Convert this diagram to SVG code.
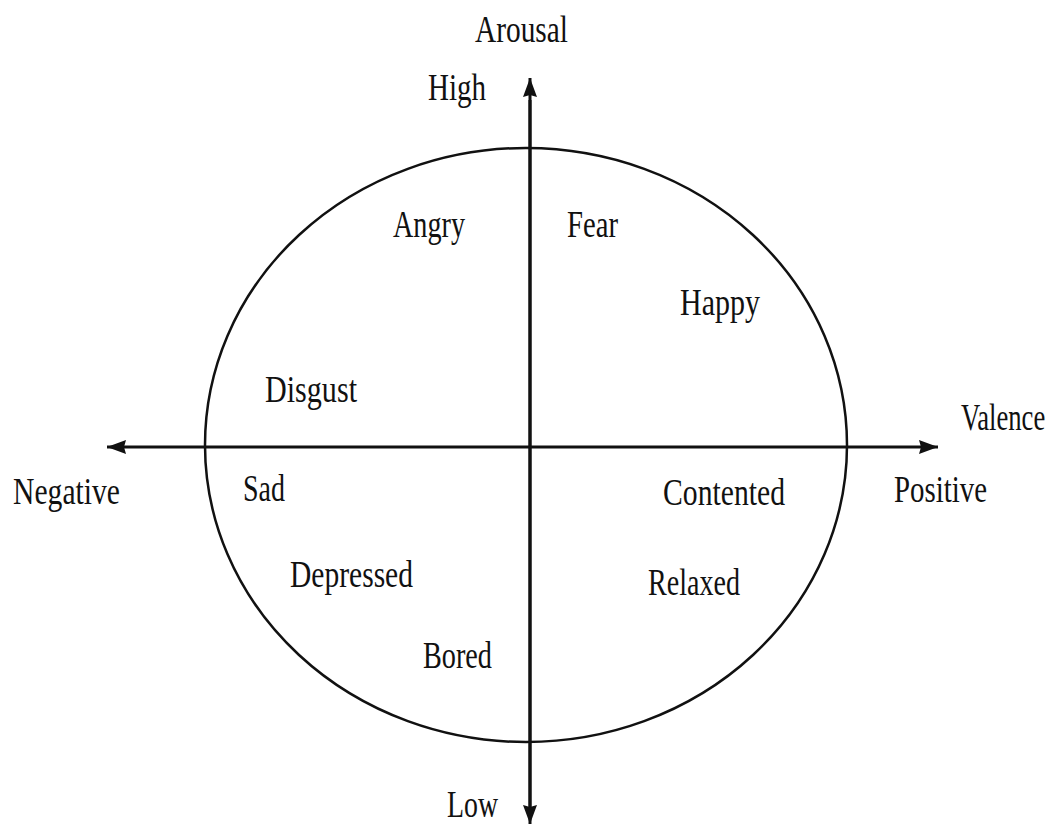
<svg xmlns="http://www.w3.org/2000/svg" width="1062" height="825" viewBox="0 0 1062 825">
<style>
text{font-family:'Liberation Serif','Times New Roman',Times,serif;font-size:37px;fill:#111;}
.ax{stroke:#111;stroke-width:3;fill:none;}
.el{stroke:#111;stroke-width:2.5;fill:none;}
</style>
<defs>
<marker id="ah" markerUnits="userSpaceOnUse" markerWidth="20" markerHeight="16" refX="19" refY="7" orient="auto">
<path d="M0,0 L19,7 L0,14 L2,7 z" fill="#111"/>
</marker>
</defs>
<rect width="1062" height="825" fill="#fff"/>
<g id="circle"><ellipse class="el" cx="526" cy="445" rx="321" ry="297"/></g>
<g id="connectors">
<line class="ax" x1="530" y1="812" x2="530" y2="78" marker-end="url(#ah)"/>
<line class="ax" x1="530" y1="100" x2="530" y2="824" marker-end="url(#ah)"/>
<line class="ax" x1="530" y1="447" x2="938" y2="447" marker-end="url(#ah)"/>
<line class="ax" x1="530" y1="447" x2="107" y2="447" marker-end="url(#ah)"/>
</g>
<g id="axis-labels">
<text x="475" y="42" textLength="93" lengthAdjust="spacingAndGlyphs">Arousal</text>
<text x="428" y="100" textLength="58" lengthAdjust="spacingAndGlyphs">High</text>
<text x="447" y="817" textLength="51" lengthAdjust="spacingAndGlyphs">Low</text>
<text transform="translate(961,430) scale(0.72,1)" x="0" y="0">Valence</text>
<text x="13" y="504" textLength="107" lengthAdjust="spacingAndGlyphs">Negative</text>
<text x="894" y="502" textLength="93" lengthAdjust="spacingAndGlyphs">Positive</text>
</g>
<g id="angry"><text x="393" y="237" textLength="72" lengthAdjust="spacingAndGlyphs">Angry</text></g>
<g id="fear"><text x="567" y="237" textLength="51" lengthAdjust="spacingAndGlyphs">Fear</text></g>
<g id="happy"><text x="680" y="315" textLength="80" lengthAdjust="spacingAndGlyphs">Happy</text></g>
<g id="disgust"><text x="265" y="402" textLength="92" lengthAdjust="spacingAndGlyphs">Disgust</text></g>
<g id="sad"><text x="243" y="501" textLength="42" lengthAdjust="spacingAndGlyphs">Sad</text></g>
<g id="contented"><text x="663" y="505" textLength="122" lengthAdjust="spacingAndGlyphs">Contented</text></g>
<g id="depressed"><text x="290" y="587" textLength="123" lengthAdjust="spacingAndGlyphs">Depressed</text></g>
<g id="relaxed"><text x="648" y="595" textLength="92" lengthAdjust="spacingAndGlyphs">Relaxed</text></g>
<g id="bored"><text x="423" y="668" textLength="69" lengthAdjust="spacingAndGlyphs">Bored</text></g>
</svg>
